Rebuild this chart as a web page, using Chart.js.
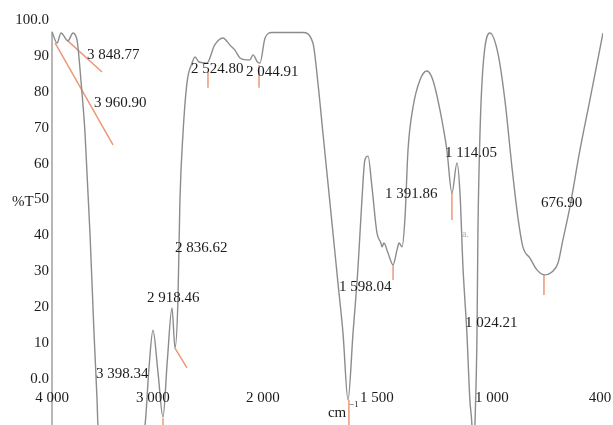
<!DOCTYPE html>
<html>
<head>
<meta charset="utf-8">
<script src="https://cdn.jsdelivr.net/npm/chart.js@4/dist/chart.umd.min.js"></script>
<style>
html, body { margin: 0; padding: 0; background: #fff; }
canvas { display: block; }
</style>
</head>
<body>
<canvas id="irChart" width="613" height="425"></canvas>
<script>
// spectrum (cm-1, %T)
const wavenumbers = [4000, 3950, 3911, 3842, 3792, 3752, 3743, 3710, 3673, 3624, 3584, 3554, 3545, 3327,
  3079, 3040, 3000, 2955, 2909, 2870, 2827, 2800, 2773, 2755, 2727, 2691, 2645, 2618, 2582, 2509,
  2440, 2364, 2300, 2255, 2209, 2150, 2118, 2091, 2050, 2027, 1991, 1961, 1825, 1781, 1759, 1737,
  1715, 1693, 1671, 1649, 1627, 1605, 1583, 1566, 1553, 1539, 1522, 1500, 1483, 1478, 1470, 1452,
  1430, 1413, 1404, 1391, 1378, 1365, 1343, 1313, 1283, 1257, 1226, 1196, 1174, 1152, 1139, 1126,
  1109, 1096, 1087, 1080, 1074, 1065, 1061, 1052, 1039, 1009, 967, 928, 889, 856, 828, 789, 750,
  706, 667, 633, 606, 567, 511, 456, 383];
const transmittance = [96.7, 93.6, 96.4, 94.2, 96.4, 94.4, 92.5, 82, 68.5, 40.7, 12.8, -5.8, -12.8, -30,
  -12.8, 3, 13.6, 2, -10.6, 5, 19.8, 8.6, 22.0, 49.9, 68.5, 82.5, 88.0, 89.7, 88.3, 88.0,
  93, 95.0, 93, 91.6, 89.4, 88.9, 88.9, 90.3, 88.3, 88.0, 95.0, 96.5, 96.5, 93.6, 82.5, 68.5,
  54.6, 40.7, 26.7, 12.8, -5.8, 12.8, 31.2, 49.9, 61.0, 62.1, 53.5, 40.7, 37.9, 36.8, 37.9, 35.1,
  31.8, 35.9, 37.9, 36.8, 45.1, 63.8, 75.8, 83.3, 85.8, 83.3, 74.9, 63.8, 51.8, 60.2, 51.8, 31.2,
  12.8, -5.8, -12.8, -25, -12.8, 12.8, 40.7, 68.5, 86.9, 96.4, 90.8, 77.7, 59.1, 45.1, 36.8, 33.7, 30.4,
  29.0, 29.8, 32.3, 38.7, 47.9, 63.8, 77.7, 96.4];

const tickValues = [4000, 3000, 2000, 1500, 1000, 400];
const tickLabels = ['4 000', '3 000', '2 000', '1 500', '1 000', '400'];
const yTickValues = [0, 10, 20, 30, 40, 50, 60, 70, 80, 90, 100];

// peak marker segments: [start, end]
const markerWn = [[3970, 3396], [3851, 3505], [2500, 2500], [2036, 2036], [2800, 2691],
  [2909, 2909], [1623, 1623], [1430, 1430], [1174, 1174], [711, 711]];
const markerT = [[93.6, 65.2], [94.4, 85.5], [85.5, 81.1], [87.5, 81.1], [8.6, 3.1],
  [-10.9, -13], [-5.8, -13], [31.8, 27.6], [51.8, 44.3], [29.0, 23.4]];

const peakLabels = ['3 848.77', '3 960.90', '2 524.80', '2 044.91', '2 836.62', '2 918.46', '3 398.34',
  '1 598.04', '1 391.86', '1 114.05', '1 024.21', '676.90'];
const peakLabelWn = [3653, 3584, 2655, 2155, 2800, 3059, 3564, 1667, 1465, 1204, 1117, 728];
const peakLabelT = [90.3, 76.9, 86.4, 85.5, 36.5, 22.6, 1.5, 25.6, 51.5, 63.0, 15.6, 49.0];

// the x axis is stretched in pieces (4000-2000, 2000-1000, 1000-400)
const axisBreaks = [0, 101, 211, 325, 440, 548];
const pos = function(wn) {
    const n = tickValues.length;
    for (let i = 0; i < n - 1; i++) {
        const a = tickValues[i], b = tickValues[i + 1];
        if (wn >= b || i === n - 2) {
            return axisBreaks[i] + (a - wn) / (a - b) * (axisBreaks[i + 1] - axisBreaks[i]);
        }
    }
};

const serif = '"Liberation Serif", "DejaVu Serif", serif';
const ink = '#1c1c1c';

let datasets = [{
    data: wavenumbers.map((w, i) => ({ x: pos(w), y: transmittance[i] })),
    borderColor: '#8c8c8c',
    borderWidth: 1.4,
    pointRadius: 0,
    cubicInterpolationMode: 'monotone',
    fill: false
}];
for (let i = 0; i < markerWn.length; i++) {
    datasets.push({
        data: [{ x: pos(markerWn[i][0]), y: markerT[i][0] }, { x: pos(markerWn[i][1]), y: markerT[i][1] }],
        borderColor: '#ec9878',
        borderWidth: 1.5,
        pointRadius: 0,
        fill: false
    });
}

const annotate = {
    id: 'annotate',
    beforeDatasetsDraw(chart) {
        // left frame line starts where the trace starts, not at the top of the plot
        const ctx = chart.ctx;
        const x = chart.scales.x, y = chart.scales.y;
        const left = x.getPixelForValue(pos(wavenumbers[0]));
        ctx.save();
        ctx.strokeStyle = '#a6a6a6';
        ctx.lineWidth = 1.6;
        ctx.beginPath();
        ctx.moveTo(left, y.getPixelForValue(transmittance[0]));
        ctx.lineTo(left, chart.chartArea.bottom);
        ctx.stroke();
        ctx.restore();
    },
    afterDatasetsDraw(chart) {
        const ctx = chart.ctx;
        const x = chart.scales.x, y = chart.scales.y;
        ctx.save();
        ctx.fillStyle = ink;
        ctx.font = '15px ' + serif;
        ctx.textBaseline = 'middle';
        ctx.textAlign = 'left';
        for (let i = 0; i < peakLabels.length; i++) {
            ctx.fillText(peakLabels[i], x.getPixelForValue(pos(peakLabelWn[i])), y.getPixelForValue(peakLabelT[i]));
        }
        // x tick labels sit inside the plot, just under 0
        ctx.textAlign = 'center';
        for (let i = 0; i < tickValues.length; i++) {
            ctx.fillText(tickLabels[i], x.getPixelForValue(pos(tickValues[i])), y.getPixelForValue(-5.3));
        }
        ctx.textAlign = 'left';
        ctx.fillText('cm', x.getPixelForValue(pos(1715)), y.getPixelForValue(-9.6));
        ctx.font = '9px ' + serif;
        ctx.fillText('\u22121', x.getPixelForValue(pos(1623)), y.getPixelForValue(-7.2));
        ctx.font = '15px ' + serif;
        ctx.fillText('%T', chart.chartArea.left - 40, y.getPixelForValue(49.3));
        ctx.fillStyle = '#b0b0b0';
        ctx.font = '10px ' + serif;
        ctx.fillText('a.', x.getPixelForValue(pos(1130)), y.getPixelForValue(40.3));
        ctx.restore();
    }
};

window.chartObject = new Chart(document.getElementById('irChart'), {
    type: 'line',
    data: { datasets: datasets },
    plugins: [annotate],
    options: {
        responsive: false,
        animation: false,
        layout: { padding: { top: 20, right: 10, bottom: 0, left: 0 } },
        plugins: { legend: { display: false }, tooltip: { enabled: false } },
        scales: {
            x: {
                type: 'linear',
                min: 0,
                max: pos(383),
                display: false
            },
            y: {
                type: 'linear',
                min: -12.8,
                max: 100,
                afterBuildTicks: function(scale) {
                    scale.ticks = yTickValues.map(v => ({ value: v }));
                },
                afterFit: function(scale) {
                    scale.width = 52;
                    scale.paddingTop = 0;
                    scale.paddingBottom = 0;
                },
                ticks: {
                    padding: 3,
                    color: ink,
                    font: { family: serif, size: 15 },
                    callback: function(v) {
                        if (v === 100) return '100.0';
                        if (v === 0) return '0.0';
                        return String(v);
                    }
                },
                grid: { display: false, drawTicks: false, tickLength: 0 },
                border: { display: false }
            }
        }
    }
});
</script>
</body>
</html>
